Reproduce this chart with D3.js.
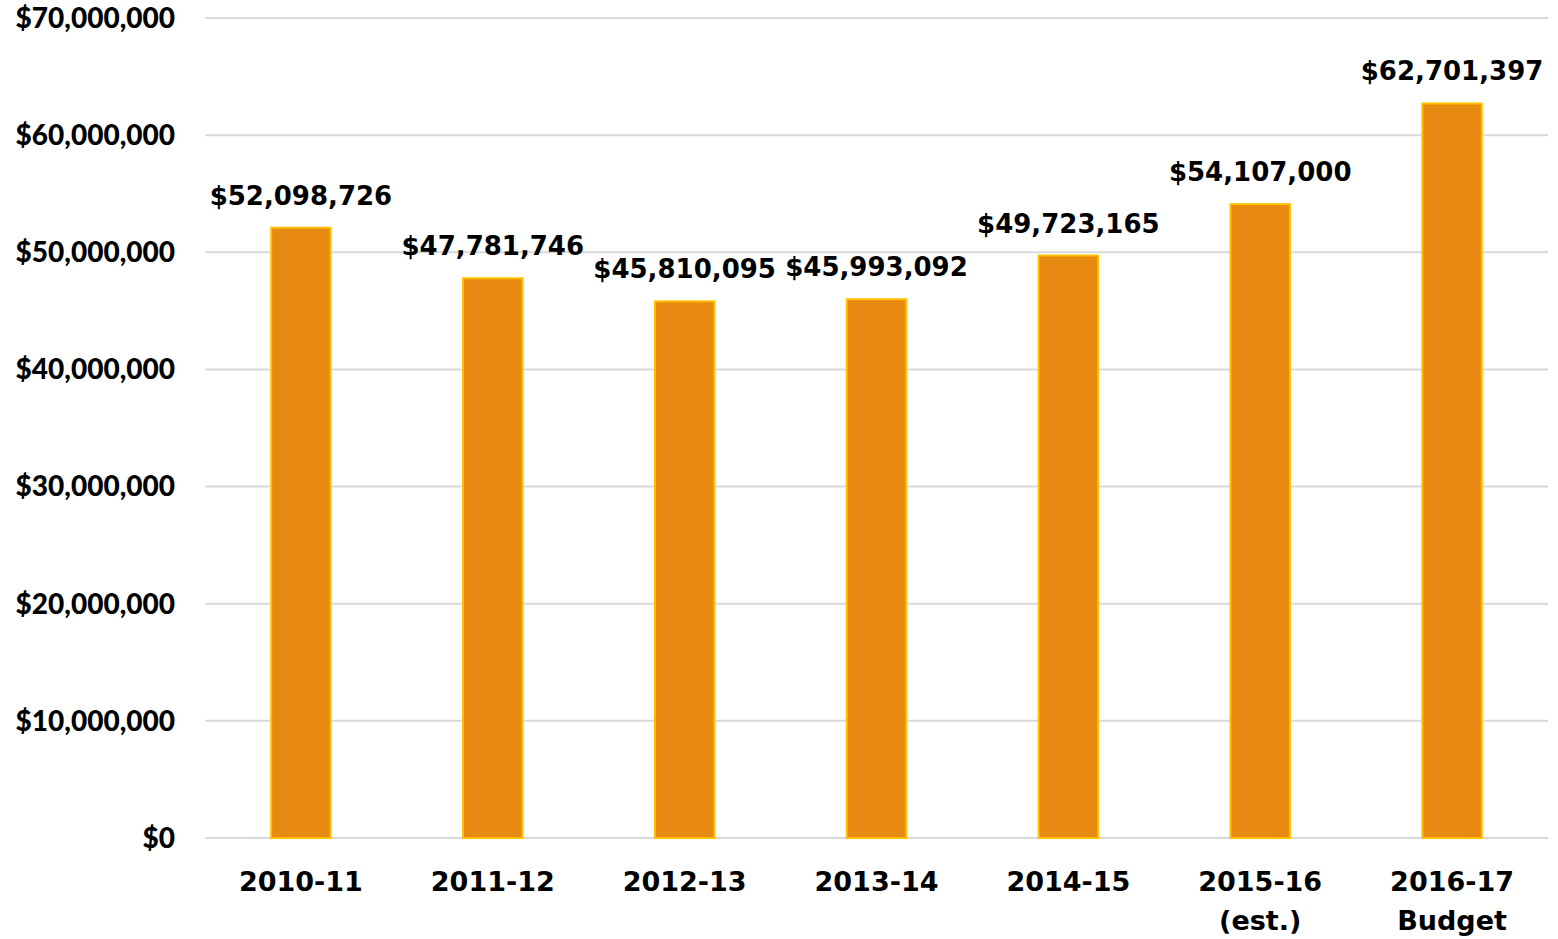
<!DOCTYPE html>
<html lang="en">
  <head>
    <meta charset="UTF-8" />
    <title>Revenue by Year</title>
    <script src="https://d3js.org/d3.v7.min.js"></script>
    <style>
      body {
        margin: 0;
        background: #fff;
      }
      .tick-label {
        font-family: Lato, "Open Sans", sans-serif;
        font-weight: 900;
        font-size: 28px;
        fill: #000;
      }
      .cat-label,
      .val-label {
        font-family: "DejaVu Sans", sans-serif;
        font-weight: bold;
        fill: #000;
      }
    </style>
  </head>
  <body>
    <div class="chart"></div>
    <script>
      const years = ["2010-11", "2011-12", "2012-13", "2013-14", "2014-15", "2015-16", "2016-17"];
      const subLabels = ["", "", "", "", "", "(est.)", "Budget"];
      const amounts = [52098726, 47781746, 45810095, 45993092, 49723165, 54107000, 62701397];
      const yTicks = [0, 10000000, 20000000, 30000000, 40000000, 50000000, 60000000, 70000000];

      const W = 1558, H = 939;
      const margin = { top: 18, right: 10, bottom: 101, left: 205 };
      const width = W - margin.left - margin.right,
        height = H - margin.top - margin.bottom;

      const svg = d3
        .select(".chart")
        .append("svg")
        .attr("width", W)
        .attr("height", H)
        .append("g")
        .attr("transform", `translate(${margin.left},${margin.top})`);

      const x = d3.scaleBand().domain(years).range([0, width]).paddingInner(0.69).paddingOuter(0.345);
      const y = d3.scaleLinear().domain([0, 70000000]).range([height, 0]);

      const fmt = d3.format(",");

      // grid
      svg
        .selectAll(".grid")
        .data(yTicks)
        .enter()
        .append("line")
        .attr("x1", 0)
        .attr("x2", width)
        .attr("y1", (d) => y(d))
        .attr("y2", (d) => y(d))
        .attr("stroke", "#d9d9d9")
        .attr("stroke-width", 2);

      svg
        .selectAll(".tick-label")
        .data(yTicks)
        .enter()
        .append("text")
        .attr("class", "tick-label")
        .attr("x", -30)
        .attr("y", (d) => y(d))
        .attr("dy", "0.35em")
        .attr("text-anchor", "end")
        .text((d) => "$" + fmt(d));

      // bars
      svg
        .selectAll(".bar")
        .data(amounts)
        .enter()
        .append("rect")
        .attr("x", (d, i) => x(years[i]))
        .attr("y", (d) => y(d))
        .attr("width", x.bandwidth())
        .attr("height", (d) => height - y(d))
        .attr("fill", "#e88912")
        .attr("stroke", "#ffc000")
        .attr("stroke-width", 2);

      svg
        .selectAll(".val-label")
        .data(amounts)
        .enter()
        .append("text")
        .attr("class", "val-label")
        .attr("x", (d, i) => x(years[i]) + x.bandwidth() / 2)
        .attr("y", (d) => y(d) - 23)
        .attr("text-anchor", "middle")
        .style("font-size", "26px")
        .text((d) => "$" + fmt(d));

      // category labels
      const cat = svg
        .selectAll(".cat-label")
        .data(years)
        .enter()
        .append("text")
        .attr("class", "cat-label")
        .attr("x", (d) => x(d) + x.bandwidth() / 2)
        .attr("y", height + 53)
        .attr("text-anchor", "middle")
        .style("font-size", "27px");
      cat.append("tspan").text((d) => d);
      cat
        .append("tspan")
        .attr("x", (d) => x(d) + x.bandwidth() / 2)
        .attr("dy", 39)
        .text((d, i) => subLabels[i]);
    </script>
  </body>
</html>
